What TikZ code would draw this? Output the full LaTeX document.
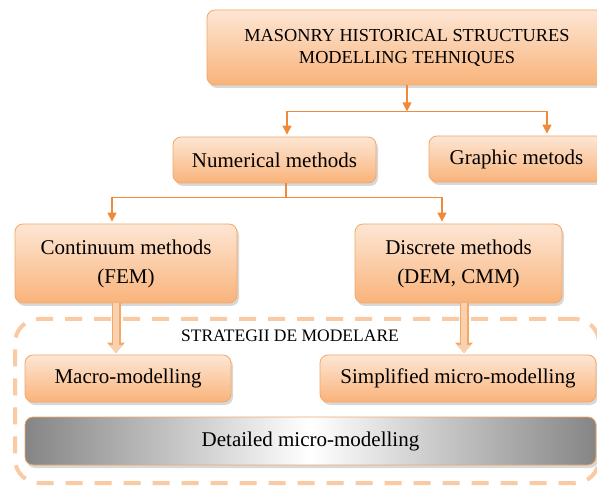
\documentclass[tikz,border=0pt]{standalone}
\usepackage{fontspec}
\setmainfont{Liberation Serif}
\usetikzlibrary{calc,positioning,arrows.meta,shadows}
\definecolor{peach}{HTML}{FDE6D4}
\definecolor{apricot}{HTML}{F9B37A}
\definecolor{rim}{HTML}{F4A866}
\definecolor{linkorange}{HTML}{F08A3A}
\definecolor{dashrim}{HTML}{F9CAA4}
\definecolor{feedfill}{HTML}{FAD1AE}
\definecolor{slate}{HTML}{858585}
\tikzset{
	>={Triangle[length=9pt,width=9pt]},
	method/.style={draw=rim, line width=0.8pt, rounded corners=8pt,
		top color=peach, bottom color=apricot,
		drop shadow={shadow xshift=2pt, shadow yshift=-3pt, opacity=.3},
		font=\fontsize{21}{29}\selectfont, align=center, inner sep=0pt},
	link/.style={draw=linkorange, line width=1.3pt, ->},
	wireline/.style={draw=linkorange, line width=1.3pt},
	feed/.style={draw=feedfill, line width=6.5pt, shorten >=1.5pt,
		-{Triangle[length=8pt,width=13pt]},
		preaction={draw=rim, line width=9pt, -{Triangle[length=10.5pt,width=17pt]}}},
	zone/.style={draw=dashrim, line width=4pt, dash pattern=on 17pt off 12pt,
		rounded corners=24pt, inner sep=0pt},
}

\begin{document}
\begin{tikzpicture}[x=1pt,y=-1pt]
	\clip (0,0) rectangle (597,486);
	\fill[white] (0,0) rectangle (597,486);
	\node[zone, minimum width=584pt, minimum height=164pt] (zone) at (307,401) {};
	\node[font=\fontsize{17.5}{20}\selectfont] (strat) at (290,336) {STRATEGII DE MODELARE};

	\node[method, minimum width=400pt, minimum height=75pt,
		font=\fontsize{18.3}{22}\selectfont] (top) at (407,47.5)
		{MASONRY HISTORICAL STRUCTURES\\MODELLING TEHNIQUES};
	\node[method, minimum width=203pt, minimum height=46pt] (num) at (274.5,160) {Numerical methods};
	\node[method, minimum width=175pt, minimum height=46pt] (graph) at (516.5,159) {Graphic metods};
	\node[method, minimum width=222pt, minimum height=79pt] (cont) at (126,263.5) {Continuum methods\\(FEM)};
	\node[method, minimum width=207pt, minimum height=79pt] (disc) at (458.5,263.5) {Discrete methods\\(DEM, CMM)};
	\node[method, minimum width=206pt, minimum height=47pt] (macro) at (128,378.5) {Macro-modelling};
	\node[method, minimum width=276pt, minimum height=47pt] (simp) at (458,378.5) {Simplified micro-modelling};
	\node[method, minimum width=571pt, minimum height=48pt,
		left color=slate, right color=slate, middle color=white] (det) at (310.5,441) {Detailed micro-modelling};

	\coordinate (hubA) at ($(top.south)+(0,26)$);
	\coordinate (numin) at ([xshift=12.5pt,yshift=2pt]num.north);
	\coordinate (grin) at ([xshift=30.5pt,yshift=2pt]graph.north);
	\draw[link] (top.south) -- (hubA);
	\draw[link] (hubA) -| (numin);
	\draw[link] (hubA) -| (grin);

	\coordinate (numout) at ([xshift=11.5pt]num.south);
	\coordinate (hubB) at ($(numout)+(0,14)$);
	\coordinate (contin) at ([xshift=-14pt,yshift=2pt]cont.north);
	\coordinate (discin) at ([xshift=-16.5pt,yshift=2pt]disc.north);
	\draw[wireline] (numout) -- (hubB);
	\draw[link] (hubB) -| (contin);
	\draw[link] (hubB) -| (discin);

	\draw[feed] ([xshift=-10pt]cont.south) -- ([xshift=-12pt]macro.north);
	\draw[feed] ([xshift=5.5pt]disc.south) -- ([xshift=6pt]simp.north);
\end{tikzpicture}
\end{document}
